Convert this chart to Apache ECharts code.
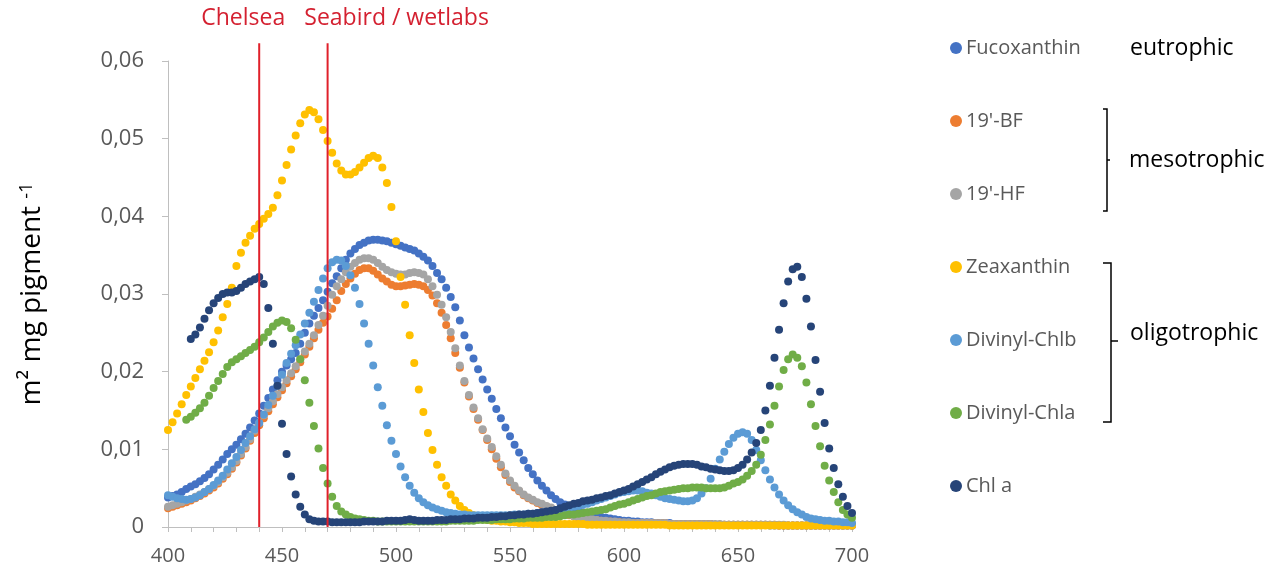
<!DOCTYPE html>
<html><head><meta charset="utf-8">
<script src="https://cdn.jsdelivr.net/npm/echarts@6/dist/echarts.min.js"></script>
<style>html,body{margin:0;padding:0;background:#fff}#c{width:1277px;height:568px}</style>
</head><body><div id="c"></div>
<script>
const wavelengths = [
400,402,404,406,408,410,412,414,416,418,
420,422,424,426,428,430,432,434,436,438,
440,442,444,446,448,450,452,454,456,458,
460,462,464,466,468,470,472,474,476,478,
480,482,484,486,488,490,492,494,496,498,
500,502,504,506,508,510,512,514,516,518,
520,522,524,526,528,530,532,534,536,538,
540,542,544,546,548,550,552,554,556,558,
560,562,564,566,568,570,572,574,576,578,
580,582,584,586,588,590,592,594,596,598,
600,602,604,606,608,610,612,614,616,618,
620,622,624,626,628,630,632,634,636,638,
640,642,644,646,648,650,652,654,656,658,
660,662,664,666,668,670,672,674,676,678,
680,682,684,686,688,690,692,694,696,698,
700];

const fucoxanthin = [
0.0038,0.0040,0.0042,0.0045,0.0049,0.0052,0.0055,0.0059,0.0063,0.0068,
0.0074,0.0080,0.0087,0.0094,0.0100,0.0106,0.0113,0.0120,0.0128,0.0137,
0.0146,0.0156,0.0166,0.0177,0.0189,0.0200,0.0208,0.0216,0.0224,0.0236,
0.0250,0.0262,0.0272,0.0282,0.0292,0.0303,0.0314,0.0323,0.0333,0.0344,
0.0352,0.0358,0.0363,0.0366,0.0369,0.0370,0.0370,0.0369,0.0368,0.0366,
0.0364,0.0362,0.0360,0.0358,0.0356,0.0352,0.0348,0.0343,0.0336,0.0327,
0.0319,0.0308,0.0296,0.0283,0.0266,0.0247,0.0231,0.0217,0.0203,0.0190,
0.0177,0.0165,0.0152,0.0140,0.0128,0.0117,0.0106,0.0096,0.0086,0.0076,
0.0068,0.0060,0.0053,0.0047,0.0041,0.0036,0.0032,0.0029,0.0026,0.0023,
0.0021,0.0019,0.0017,0.0015,0.0014,0.0013,0.0012,0.0011,0.0010,0.0009,
0.0008,0.0008,0.0007,0.0007,0.0006,0.0006,0.0006,0.0005,0.0005,0.0005,
0.0005,0.0004,0.0004,0.0004,0.0004,0.0004,0.0004,0.0004,0.0004,0.0004,
0.0003,0.0003,0.0003,0.0003,0.0003,0.0003,0.0003,0.0003,0.0003,0.0003,
0.0003,0.0003,0.0002,0.0002,0.0002,0.0002,0.0002,0.0002,0.0002,0.0002,
0.0002,0.0002,0.0002,0.0002,0.0002,0.0002,0.0002,0.0002,0.0002,0.0002,
0.0002];

const bf19 = [
0.0024,0.0026,0.0028,0.0030,0.0032,0.0034,0.0037,0.0040,0.0043,0.0047,
0.0051,0.0056,0.0062,0.0068,0.0075,0.0083,0.0092,0.0101,0.0111,0.0121,
0.0131,0.0140,0.0149,0.0158,0.0167,0.0176,0.0185,0.0194,0.0203,0.0212,
0.0222,0.0232,0.0243,0.0254,0.0263,0.0271,0.0281,0.0292,0.0304,0.0313,
0.0320,0.0326,0.0331,0.0333,0.0333,0.0330,0.0325,0.0320,0.0316,0.0312,
0.0310,0.0310,0.0311,0.0312,0.0313,0.0312,0.0310,0.0305,0.0298,0.0288,
0.0276,0.0260,0.0243,0.0224,0.0205,0.0186,0.0168,0.0152,0.0138,0.0125,
0.0112,0.0100,0.0088,0.0077,0.0067,0.0058,0.0051,0.0046,0.0041,0.0037,
0.0034,0.0031,0.0028,0.0026,0.0024,0.0021,0.0019,0.0017,0.0015,0.0014,
0.0012,0.0011,0.0010,0.0009,0.0009,0.0008,0.0007,0.0007,0.0006,0.0006,
0.0005,0.0005,0.0005,0.0005,0.0005,0.0005,0.0005,0.0005,0.0005,0.0005,
0.0004,0.0004,0.0004,0.0004,0.0004,0.0004,0.0004,0.0004,0.0004,0.0004,
0.0003,0.0003,0.0003,0.0003,0.0003,0.0003,0.0003,0.0003,0.0003,0.0003,
0.0003,0.0003,0.0003,0.0003,0.0002,0.0002,0.0002,0.0002,0.0002,0.0002,
0.0002,0.0002,0.0002,0.0002,0.0002,0.0002,0.0002,0.0002,0.0002,0.0002,
0.0002];

const hf19 = [
0.0026,0.0028,0.0030,0.0032,0.0034,0.0036,0.0039,0.0042,0.0045,0.0049,
0.0053,0.0058,0.0064,0.0070,0.0077,0.0085,0.0094,0.0103,0.0113,0.0124,
0.0134,0.0144,0.0153,0.0162,0.0171,0.0180,0.0189,0.0198,0.0207,0.0216,
0.0226,0.0236,0.0247,0.0260,0.0272,0.0285,0.0299,0.0310,0.0319,0.0328,
0.0335,0.0340,0.0344,0.0346,0.0346,0.0344,0.0340,0.0335,0.0331,0.0328,
0.0326,0.0325,0.0325,0.0327,0.0328,0.0327,0.0325,0.0319,0.0310,0.0299,
0.0286,0.0270,0.0251,0.0230,0.0208,0.0188,0.0170,0.0154,0.0140,0.0126,
0.0114,0.0103,0.0091,0.0080,0.0069,0.0060,0.0053,0.0047,0.0042,0.0038,
0.0035,0.0032,0.0030,0.0027,0.0025,0.0022,0.0020,0.0018,0.0016,0.0014,
0.0013,0.0012,0.0011,0.0010,0.0009,0.0008,0.0008,0.0007,0.0007,0.0006,
0.0006,0.0006,0.0005,0.0005,0.0005,0.0005,0.0005,0.0005,0.0005,0.0005,
0.0004,0.0004,0.0004,0.0004,0.0004,0.0004,0.0004,0.0004,0.0004,0.0004,
0.0004,0.0004,0.0003,0.0003,0.0003,0.0003,0.0003,0.0003,0.0003,0.0003,
0.0003,0.0003,0.0003,0.0003,0.0003,0.0003,0.0002,0.0002,0.0002,0.0002,
0.0002,0.0002,0.0002,0.0002,0.0002,0.0002,0.0002,0.0002,0.0002,0.0002,
0.0002];

const zeaxanthin = [
0.0125,0.0135,0.0146,0.0158,0.0170,0.0181,0.0192,0.0203,0.0214,0.0225,
0.0238,0.0253,0.0270,0.0287,0.0308,0.0336,0.0353,0.0366,0.0375,0.0384,
0.0390,0.0397,0.0403,0.0411,0.0427,0.0446,0.0466,0.0486,0.0504,0.0520,
0.0531,0.0537,0.0534,0.0525,0.0511,0.0497,0.0482,0.0468,0.0459,0.0454,
0.0454,0.0457,0.0463,0.0469,0.0475,0.0478,0.0475,0.0463,0.0443,0.0412,
0.0368,0.0322,0.0286,0.0247,0.0211,0.0177,0.0148,0.0121,0.0099,0.0080,
0.0064,0.0053,0.0042,0.0034,0.0027,0.0022,0.0018,0.0015,0.0012,0.0010,
0.0009,0.0008,0.0008,0.0007,0.0007,0.0006,0.0006,0.0005,0.0005,0.0005,
0.0004,0.0004,0.0004,0.0004,0.0004,0.0004,0.0004,0.0004,0.0004,0.0004,
0.0004,0.0004,0.0003,0.0003,0.0003,0.0003,0.0003,0.0003,0.0003,0.0003,
0.0003,0.0003,0.0003,0.0003,0.0003,0.0003,0.0003,0.0003,0.0003,0.0003,
0.0002,0.0002,0.0002,0.0002,0.0002,0.0002,0.0002,0.0002,0.0002,0.0002,
0.0002,0.0002,0.0002,0.0002,0.0002,0.0002,0.0002,0.0002,0.0002,0.0002,
0.0002,0.0002,0.0002,0.0002,0.0002,0.0002,0.0002,0.0002,0.0002,0.0002,
0.0002,0.0002,0.0002,0.0002,0.0002,0.0002,0.0002,0.0002,0.0002,0.0002,
0.0002];

const divinylChlb = [
0.0041,0.0039,0.0037,0.0036,0.0035,0.0036,0.0038,0.0041,0.0045,0.0049,
0.0054,0.0060,0.0066,0.0074,0.0082,0.0090,0.0099,0.0108,0.0117,0.0126,
0.0134,0.0145,0.0157,0.0169,0.0182,0.0196,0.0211,0.0223,0.0234,0.0248,
0.0262,0.0276,0.0290,0.0305,0.0320,0.0333,0.0341,0.0344,0.0343,0.0336,
0.0324,0.0308,0.0287,0.0262,0.0236,0.0208,0.0180,0.0156,0.0131,0.0111,
0.0094,0.0078,0.0064,0.0053,0.0044,0.0037,0.0032,0.0028,0.0025,0.0023,
0.0021,0.0019,0.0018,0.0017,0.0016,0.0016,0.0015,0.0015,0.0015,0.0015,
0.0015,0.0015,0.0015,0.0015,0.0015,0.0015,0.0016,0.0016,0.0016,0.0017,
0.0017,0.0018,0.0019,0.0019,0.0020,0.0021,0.0022,0.0023,0.0024,0.0026,
0.0027,0.0029,0.0030,0.0032,0.0034,0.0036,0.0038,0.0040,0.0042,0.0044,
0.0045,0.0046,0.0047,0.0047,0.0046,0.0044,0.0043,0.0041,0.0039,0.0037,
0.0036,0.0035,0.0034,0.0033,0.0033,0.0034,0.0037,0.0043,0.0050,0.0062,
0.0075,0.0087,0.0097,0.0107,0.0115,0.0120,0.0122,0.0120,0.0112,0.0099,
0.0086,0.0073,0.0061,0.0051,0.0042,0.0034,0.0028,0.0023,0.0019,0.0016,
0.0013,0.0011,0.0010,0.0009,0.0008,0.0008,0.0007,0.0007,0.0006,0.0006,
0.0005];

const divinylChla = [
null,null,null,null,0.0138,0.0142,0.0147,0.0153,0.0160,0.0169,
0.0179,0.0188,0.0197,0.0206,0.0212,0.0216,0.0220,0.0224,0.0228,0.0232,
0.0238,0.0244,0.0251,0.0258,0.0263,0.0266,0.0264,0.0256,0.0241,0.0216,
0.0189,0.0160,0.0130,0.0101,0.0076,0.0056,0.0039,0.0027,0.0020,0.0016,
0.0013,0.0011,0.0010,0.0009,0.0008,0.0008,0.0007,0.0007,0.0007,0.0007,
0.0007,0.0007,0.0007,0.0007,0.0007,0.0007,0.0007,0.0007,0.0007,0.0007,
0.0007,0.0007,0.0008,0.0008,0.0008,0.0008,0.0008,0.0008,0.0009,0.0009,
0.0009,0.0009,0.0010,0.0010,0.0010,0.0010,0.0011,0.0011,0.0011,0.0012,
0.0012,0.0012,0.0012,0.0013,0.0013,0.0013,0.0014,0.0015,0.0016,0.0016,
0.0017,0.0018,0.0019,0.0020,0.0021,0.0022,0.0023,0.0025,0.0027,0.0029,
0.0030,0.0032,0.0034,0.0036,0.0038,0.0040,0.0041,0.0043,0.0045,0.0046,
0.0047,0.0048,0.0049,0.0050,0.0050,0.0051,0.0051,0.0051,0.0050,0.0050,
0.0050,0.0050,0.0051,0.0053,0.0056,0.0058,0.0061,0.0066,0.0072,0.0080,
0.0093,0.0112,0.0132,0.0156,0.0181,0.0202,0.0216,0.0222,0.0218,0.0207,
0.0186,0.0158,0.0130,0.0104,0.0079,0.0060,0.0045,0.0032,0.0022,0.0016,
0.0012];

const chlA = [
null,null,null,null,null,0.0242,0.0248,0.0257,0.0268,0.0279,
0.0288,0.0295,0.0300,0.0302,0.0302,0.0304,0.0308,0.0313,0.0316,0.0319,
0.0322,0.0313,0.0282,0.0236,0.0182,0.0133,0.0094,0.0065,0.0042,0.0026,
0.0016,0.0010,0.0008,0.0007,0.0007,0.0007,0.0006,0.0006,0.0006,0.0006,
0.0006,0.0006,0.0006,0.0007,0.0007,0.0007,0.0007,0.0007,0.0008,0.0008,
0.0008,0.0008,0.0009,0.0010,0.0009,0.0008,0.0008,0.0008,0.0008,0.0009,
0.0009,0.0009,0.0010,0.0010,0.0010,0.0011,0.0011,0.0011,0.0012,0.0012,
0.0012,0.0013,0.0013,0.0014,0.0014,0.0015,0.0015,0.0016,0.0016,0.0017,
0.0017,0.0018,0.0019,0.0020,0.0021,0.0022,0.0024,0.0026,0.0028,0.0030,
0.0031,0.0033,0.0034,0.0035,0.0037,0.0038,0.0040,0.0041,0.0043,0.0045,
0.0047,0.0049,0.0052,0.0055,0.0058,0.0061,0.0064,0.0068,0.0071,0.0074,
0.0077,0.0079,0.0080,0.0081,0.0081,0.0081,0.0080,0.0078,0.0077,0.0075,
0.0074,0.0073,0.0072,0.0072,0.0073,0.0076,0.0080,0.0087,0.0096,0.0108,
0.0125,0.0150,0.0182,0.0218,0.0254,0.0288,0.0316,0.0332,0.0335,0.0322,
0.0294,0.0258,0.0215,0.0174,0.0134,0.0101,0.0076,0.0055,0.0039,0.0027,
0.0018];

const seriesNames = ['Fucoxanthin', "19'-BF", "19'-HF", 'Zeaxanthin', 'Divinyl-Chlb', 'Divinyl-Chla', 'Chl a'];
const seriesValues = [fucoxanthin, bf19, hf19, zeaxanthin, divinylChlb, divinylChla, chlA];
const seriesColors = ['#4472C4', '#ED7D31', '#A5A5A5', '#FFC000', '#5B9BD5', '#70AD47', '#264478'];

const sensorWavelengths = [440, 470];
const sensorNames = ['Chelsea', 'Seabird / wetlabs'];

const yTicks = ['0', '0,01', '0,02', '0,03', '0,04', '0,05', '0,06'];

const groupNames = ['eutrophic', 'mesotrophic', 'oligotrophic'];

const FONT = '"Open Sans", sans-serif';
const RED = '#D42030';
const LINE_TOP = 0.0623;

function pairs(arr) {
  const out = [];
  wavelengths.forEach((w, i) => { if (arr[i] != null) out.push([w, arr[i]]); });
  return out;
}

const series = seriesNames.map((n, i) => ({
  name: n, type: 'scatter', data: pairs(seriesValues[i]),
  symbol: 'circle', symbolSize: 8,
  itemStyle: { color: seriesColors[i], opacity: 1 },
  emphasis: { disabled: true }, silent: true, z: 2
}));

const labelOffsets = [[-16, -25], [69, -25]];
sensorWavelengths.forEach((w, i) => {
  series.push({
    type: 'line', data: [[w, 0], [w, LINE_TOP]], symbol: 'none', clip: false, silent: true, z: 5,
    lineStyle: { color: '#E0202A', width: 2 }
  });
  series.push({
    type: 'scatter', clip: false, silent: true, symbolSize: 1, z: 5,
    itemStyle: { color: 'rgba(0,0,0,0)' },
    data: [{ value: [w, LINE_TOP], label: {
      show: true, formatter: sensorNames[i], position: 'inside', offset: labelOffsets[i],
      color: RED, fontSize: 23, fontFamily: FONT, textBorderWidth: 0, opacity: 1
    } }]
  });
});

const chart = echarts.init(document.getElementById('c'));
chart.setOption({
  animation: false,
  grid: { left: 168, right: 425, top: 61, bottom: 41, containLabel: false },
  xAxis: {
    type: 'value', min: 400, max: 700, interval: 50,
    axisLine: { show: true, lineStyle: { color: '#BFBFBF', width: 1 } },
    axisTick: { show: true, length: 5, lineStyle: { color: '#BFBFBF' } },
    minorTick: { show: true, splitNumber: 5, length: 5, lineStyle: { color: '#BFBFBF' } },
    splitLine: { show: false },
    axisLabel: { color: '#595959', fontSize: 20, fontFamily: FONT, margin: 19 }
  },
  yAxis: {
    type: 'value', min: 0, max: 0.06, interval: 0.01,
    axisLine: { show: true, lineStyle: { color: '#BFBFBF', width: 1 } },
    axisTick: { show: true, length: 6, lineStyle: { color: '#BFBFBF' } },
    splitLine: { show: false },
    axisLabel: { color: '#595959', fontSize: 22, fontFamily: FONT, margin: 24,
      formatter: (v) => yTicks[Math.round(v * 100)] },
    name: '{m|m² mg pigment }{s|-1}', nameLocation: 'middle', nameGap: 122, nameRotate: 90,
    nameTextStyle: { rich: {
      m: { fontSize: 28, fontFamily: FONT, color: '#000' },
      s: { fontSize: 18, fontFamily: FONT, color: '#000', verticalAlign: 'top' }
    } }
  },
  legend: {
    orient: 'vertical', left: 945, top: 33, itemWidth: 12, itemHeight: 12, itemGap: 53,
    icon: 'circle', selectedMode: false,
    textStyle: { color: '#595959', fontSize: 20, fontFamily: FONT, lineHeight: 20, padding: [0, 0, 0, -1] },
    data: seriesNames
  },
  graphic: [
    { type: 'text', x: 1130, y: 48, style: { text: groupNames[0], fill: '#000', font: '23px "Open Sans"', verticalAlign: 'middle', textVerticalAlign: 'middle' } },
    { type: 'text', x: 1129, y: 160, style: { text: groupNames[1], fill: '#000', font: '23px "Open Sans"', verticalAlign: 'middle', textVerticalAlign: 'middle' } },
    { type: 'text', x: 1130, y: 333, style: { text: groupNames[2], fill: '#000', font: '23px "Open Sans"', verticalAlign: 'middle', textVerticalAlign: 'middle' } },
    { type: 'polyline', shape: { points: [[1103, 109], [1107, 109], [1107, 211], [1103, 211]] }, style: { stroke: '#000', lineWidth: 1.5, fill: null } },
    { type: 'polyline', shape: { points: [[1107, 160], [1110, 160]] }, style: { stroke: '#000', lineWidth: 1.5 } },
    { type: 'polyline', shape: { points: [[1103, 263], [1111, 263], [1111, 422], [1103, 422]] }, style: { stroke: '#000', lineWidth: 1.5, fill: null } },
    { type: 'polyline', shape: { points: [[1111, 341], [1118, 341]] }, style: { stroke: '#000', lineWidth: 1.5 } }
  ],
  series: series
});
</script>
</body></html>
